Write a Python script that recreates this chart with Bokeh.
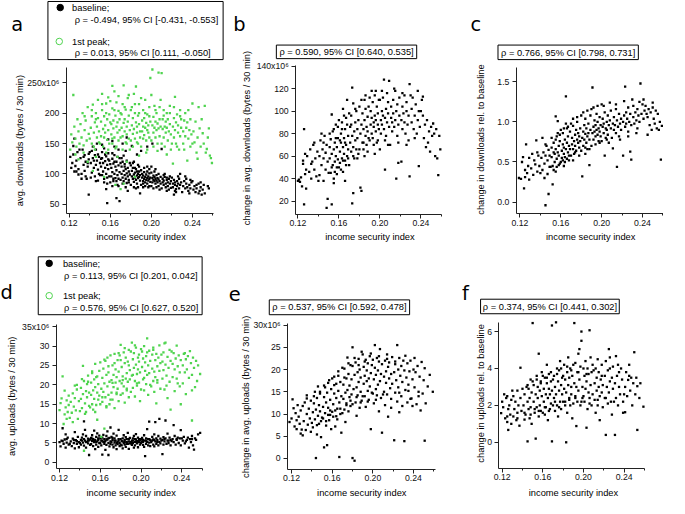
from math import pi
from bokeh.plotting import figure
from bokeh.models import Range1d, LinearAxis, FixedTicker, CustomJSTickFormatter
from bokeh.core.properties import value
from bokeh.embed import file_html
from bokeh.resources import INLINE

# ---------------- data (values in 10^6 bytes / 30 min unless relative) -------------
x_major = [0.12, 0.16, 0.20, 0.24]
x_minor = [0.14, 0.18, 0.22, 0.26]

a_baseline = [(0.121,128),(0.122,110),(0.123,118),(0.124,146),(0.125,158),(0.125,104),(0.126,113),(0.127,122),(0.128,136),(0.129,108),(0.129,99),
(0.131,126),(0.132,92),(0.133,140),(0.134,115),(0.135,131),(0.135,105),(0.136,120),(0.137,92),(0.138,112),(0.139,133),(0.139,124),(0.139,66),
(0.141,118),(0.142,102),(0.142,138),(0.143,126),(0.144,110),(0.145,96),(0.145,131),(0.146,140),(0.146,115),(0.147,122),(0.148,107),(0.148,89),(0.149,128),(0.149,100),(0.147,150),(0.143,145),
(0.151,112),(0.151,125),(0.152,98),(0.152,136),(0.153,118),(0.153,104),(0.154,142),(0.154,92),(0.155,121),(0.155,110),(0.156,129),(0.156,100),(0.157,115),(0.157,84),(0.158,108),(0.158,134),(0.159,96),(0.159,122),(0.156,75),(0.157,52),(0.152,148),(0.158,157),
(0.161,110),(0.161,96),(0.162,125),(0.162,103),(0.163,117),(0.163,88),(0.164,131),(0.164,100),(0.165,112),(0.165,93),(0.166,120),(0.166,106),(0.167,98),(0.167,82),(0.168,114),(0.168,92),(0.169,103),(0.169,126),(0.166,60),(0.169,55),(0.164,145),(0.168,140),(0.162,80),(0.162,154),
(0.171,100),(0.171,112),(0.172,94),(0.172,120),(0.173,105),(0.173,88),(0.174,98),(0.174,116),(0.175,92),(0.175,108),(0.176,101),(0.176,85),(0.177,110),(0.177,96),(0.178,104),(0.178,90),(0.179,99),(0.179,118),(0.173,130),(0.177,72),(0.175,138),(0.172,150),(0.176,160),
(0.181,96),(0.181,105),(0.182,92),(0.182,110),(0.183,99),(0.183,87),(0.184,102),(0.184,94),(0.185,108),(0.185,90),(0.186,97),(0.186,84),(0.187,100),(0.187,93),(0.188,95),(0.188,104),(0.189,89),(0.189,98),(0.183,120),(0.187,115),(0.185,76),(0.189,68),(0.181,146),(0.186,132),
(0.191,94),(0.191,100),(0.192,88),(0.192,97),(0.193,92),(0.193,103),(0.194,86),(0.194,95),(0.195,90),(0.195,99),(0.196,93),(0.196,84),(0.197,96),(0.197,89),(0.198,92),(0.198,101),(0.199,87),(0.199,94),(0.196,112),(0.192,78),(0.198,80),(0.196,145),(0.190,138),
(0.201,93),(0.201,86),(0.202,97),(0.202,90),(0.203,88),(0.203,95),(0.204,84),(0.204,92),(0.205,89),(0.205,98),(0.206,86),(0.206,93),(0.207,91),(0.207,80),(0.208,88),(0.209,95),(0.209,84),(0.204,108),(0.208,74),(0.200,112),(0.201,150),
(0.211,86),(0.211,92),(0.212,82),(0.212,89),(0.213,95),(0.214,84),(0.214,78),(0.215,90),(0.216,86),(0.216,80),(0.217,92),(0.218,84),(0.219,88),(0.219,77),(0.213,100),(0.215,72),(0.218,96),(0.210,141),
(0.221,84),(0.221,78),(0.222,90),(0.223,82),(0.223,86),(0.224,75),(0.225,88),(0.225,80),(0.226,84),(0.227,92),(0.227,76),(0.228,82),(0.229,86),(0.222,66),(0.224,70),(0.228,100),
(0.231,80),(0.232,88),(0.233,76),(0.234,84),(0.235,78),(0.236,72),(0.237,82),(0.238,76),(0.239,86),(0.238,90),(0.233,96),
(0.241,74),(0.242,80),(0.243,70),(0.244,76),(0.246,84),(0.247,72),(0.248,78),(0.249,66),(0.250,74),(0.251,82),(0.252,68),(0.255,80),(0.256,76),(0.246,68),
(0.124,132),(0.127,104),(0.130,140),(0.132,100),(0.134,128),(0.136,96),(0.138,118),(0.140,136),(0.141,94),(0.144,122),(0.146,88),(0.148,132),(0.150,98),(0.150,118),(0.152,126),(0.154,86),(0.155,132),(0.157,94),(0.158,124),(0.160,86),(0.160,116),(0.162,134),(0.163,92),(0.164,120),(0.166,88),(0.167,128),(0.168,80),(0.170,118),(0.170,90),(0.171,126),(0.172,84),(0.174,112),(0.175,78),(0.176,122),(0.178,86),(0.180,114),(0.180,82),(0.182,118),(0.183,78),(0.184,110),(0.186,104),(0.187,78),(0.188,112),(0.190,82),(0.190,106),(0.192,84),(0.193,110),(0.194,80),(0.196,104),(0.197,78),(0.198,108),(0.200,80),(0.200,102),(0.202,76),(0.203,104),(0.205,78),(0.207,100),(0.210,76),(0.212,98),(0.215,94),(0.217,74),(0.220,94),(0.223,72),(0.226,96),(0.230,70),(0.234,92),(0.237,68),(0.240,88),(0.244,82),(0.248,86)]

a_peak = [(0.121,140),(0.122,165),(0.123,152),(0.124,230),(0.125,178),(0.126,158),(0.127,145),(0.128,190),(0.129,170),(0.126,132),(0.129,124),
(0.131,182),(0.132,160),(0.133,200),(0.134,147),(0.135,172),(0.136,188),(0.137,155),(0.138,210),(0.139,166),(0.134,135),(0.138,120),
(0.141,176),(0.142,195),(0.142,150),(0.143,214),(0.144,168),(0.145,185),(0.145,140),(0.146,200),(0.147,160),(0.147,178),(0.148,192),(0.149,152),(0.149,170),(0.146,128),(0.143,105),(0.148,222),
(0.151,186),(0.151,162),(0.152,205),(0.153,174),(0.153,145),(0.154,195),(0.155,168),(0.155,180),(0.156,216),(0.157,156),(0.157,190),(0.158,172),(0.158,226),(0.159,150),(0.159,198),(0.152,232),(0.156,135),(0.154,95),
(0.161,182),(0.161,165),(0.162,208),(0.162,150),(0.163,188),(0.163,175),(0.164,236),(0.164,160),(0.165,196),(0.165,142),(0.166,178),(0.166,218),(0.167,168),(0.167,185),(0.168,155),(0.168,204),(0.169,172),(0.169,190),(0.165,82),(0.167,128),(0.162,245),
(0.171,176),(0.171,198),(0.172,162),(0.172,215),(0.173,184),(0.173,246),(0.174,170),(0.174,190),(0.175,152),(0.175,206),(0.176,178),(0.176,165),(0.177,225),(0.177,186),(0.178,158),(0.178,196),(0.179,172),(0.179,140),(0.173,84),(0.176,120),(0.170,75),
(0.181,180),(0.181,210),(0.182,166),(0.182,192),(0.183,174),(0.183,232),(0.184,158),(0.184,200),(0.185,185),(0.185,244),(0.186,168),(0.186,178),(0.187,196),(0.187,150),(0.188,182),(0.188,215),(0.189,170),(0.189,160),(0.184,95),(0.188,130),
(0.191,188),(0.191,170),(0.192,178),(0.192,205),(0.193,164),(0.193,192),(0.194,176),(0.194,222),(0.195,184),(0.195,155),(0.196,172),(0.196,198),(0.197,168),(0.197,180),(0.198,210),(0.198,160),(0.199,258),(0.199,186),(0.195,135),
(0.201,180),(0.201,272),(0.202,168),(0.202,194),(0.203,176),(0.203,212),(0.204,160),(0.204,186),(0.205,172),(0.205,200),(0.206,183),(0.206,150),(0.207,267),(0.207,175),(0.208,190),(0.208,162),(0.209,178),(0.209,222),(0.210,266),
(0.211,174),(0.211,190),(0.212,160),(0.212,205),(0.213,178),(0.213,145),(0.214,186),(0.214,168),(0.215,200),(0.215,176),(0.216,155),(0.216,190),(0.217,170),(0.218,182),(0.218,212),(0.219,165),(0.219,140),
(0.221,178),(0.221,117),(0.222,192),(0.222,160),(0.223,227),(0.223,172),(0.224,185),(0.224,150),(0.225,198),(0.226,168),(0.226,180),(0.227,140),(0.228,205),(0.228,162),(0.229,176),(0.229,190),
(0.231,170),(0.231,150),(0.232,188),(0.233,162),(0.233,200),(0.234,176),(0.235,122),(0.235,185),(0.236,158),(0.237,172),(0.238,190),(0.238,145),(0.239,165),
(0.240,216),(0.241,170),(0.242,152),(0.243,186),(0.244,135),(0.245,160),(0.246,210),(0.247,175),(0.248,145),(0.249,190),(0.245,125),
(0.250,167),(0.251,150),(0.252,212),(0.253,135),(0.254,141),(0.255,160),(0.256,175),(0.257,130),(0.258,126),(0.259,118),
(0.130,150),(0.135,195),(0.140,158),(0.142,205),(0.144,145),(0.146,190),(0.150,150),(0.152,215),(0.154,160),(0.156,200),(0.158,140),(0.160,185),(0.160,220),(0.162,158),(0.164,205),(0.166,145),(0.168,228),(0.170,160),(0.170,200),(0.172,140),(0.174,210),(0.176,150),(0.178,230),(0.180,155),(0.180,205),(0.182,145),(0.184,215),(0.186,152),(0.188,200),(0.190,145),(0.190,225),(0.192,158),(0.194,200),(0.196,140),(0.198,195),(0.200,155),(0.200,230),(0.202,145),(0.204,205),(0.206,138),(0.208,210),(0.210,150),(0.212,196),(0.215,132),(0.218,200),(0.220,150),(0.222,210),(0.225,145),(0.228,195),(0.232,140),(0.236,205),(0.240,150)]

b_change = [(0.120,38),(0.121,39),(0.122,37),(0.123,41),(0.124,33),(0.125,53),(0.125,56),(0.126,84),(0.126,17),(0.127,44),(0.128,48),(0.129,60),(0.128,31),(0.127,62),
(0.131,46),(0.132,66),(0.133,40),(0.134,55),(0.135,70),(0.136,48),(0.137,58),(0.138,42),(0.139,64),(0.136,72),(0.133,53),
(0.141,60),(0.141,43),(0.142,74),(0.143,52),(0.144,66),(0.145,38),(0.145,58),(0.146,78),(0.147,48),(0.147,63),(0.148,70),(0.148,14),(0.149,22),(0.149,55),(0.143,80),
(0.151,58),(0.151,68),(0.152,45),(0.152,75),(0.153,62),(0.153,17),(0.154,52),(0.154,82),(0.155,66),(0.155,40),(0.156,72),(0.156,55),(0.157,60),(0.157,88),(0.158,50),(0.158,68),(0.159,76),(0.159,57),(0.153,97),(0.155,36),
(0.161,64),(0.161,54),(0.162,72),(0.162,80),(0.163,58),(0.163,90),(0.164,68),(0.164,46),(0.165,76),(0.165,62),(0.166,84),(0.166,56),(0.167,70),(0.167,94),(0.168,110),(0.168,60),(0.169,78),(0.169,66),(0.164,102),(0.166,38),
(0.171,72),(0.171,86),(0.172,64),(0.172,96),(0.173,121),(0.173,78),(0.173,18),(0.174,27),(0.174,68),(0.175,82),(0.175,58),(0.176,90),(0.176,74),(0.177,100),(0.177,66),(0.178,84),(0.178,76),(0.179,92),(0.179,62),(0.174,107),
(0.181,80),(0.181,32),(0.182,29),(0.182,88),(0.183,72),(0.183,98),(0.184,84),(0.184,66),(0.185,92),(0.185,110),(0.186,78),(0.186,102),(0.187,86),(0.187,70),(0.188,95),(0.188,82),(0.189,76),(0.189,104),(0.185,60),
(0.191,88),(0.191,100),(0.192,80),(0.192,94),(0.193,108),(0.193,76),(0.194,90),(0.194,86),(0.195,96),(0.195,114),(0.196,82),(0.196,92),(0.197,104),(0.197,72),(0.198,88),(0.198,98),(0.199,84),(0.199,110),(0.195,62),
(0.201,92),(0.201,80),(0.202,100),(0.202,88),(0.203,96),(0.203,112),(0.204,84),(0.204,128),(0.205,48),(0.205,94),(0.206,102),(0.206,78),(0.207,90),(0.207,116),(0.208,98),(0.209,127),(0.209,86),(0.208,70),
(0.211,94),(0.211,104),(0.212,82),(0.212,90),(0.213,110),(0.213,98),(0.214,86),(0.215,118),(0.215,92),(0.216,40),(0.216,100),(0.217,78),(0.217,106),(0.218,54),(0.218,88),(0.219,96),(0.219,112),
(0.221,55),(0.221,92),(0.222,104),(0.222,84),(0.223,98),(0.224,114),(0.224,90),(0.225,80),(0.226,100),(0.226,108),(0.227,88),(0.228,96),(0.229,42),(0.229,124),(0.228,74),
(0.231,102),(0.231,90),(0.232,112),(0.233,84),(0.234,96),(0.235,106),(0.236,80),(0.237,118),(0.237,92),(0.238,51),(0.238,100),(0.239,86),
(0.241,110),(0.242,113),(0.242,96),(0.243,76),(0.244,88),(0.245,68),(0.246,92),(0.247,72),(0.248,82),(0.249,64),(0.250,86),(0.251,78),(0.252,89),(0.253,80),(0.254,60),(0.255,84),(0.256,58),(0.257,43),(0.258,78),(0.259,66),
(0.140,38),(0.145,72),(0.150,45),(0.151,80),(0.153,50),(0.155,84),(0.156,46),(0.157,76),(0.158,44),(0.159,86),(0.160,50),(0.160,92),(0.161,74),(0.162,48),(0.163,84),(0.164,56),(0.165,96),(0.166,72),(0.167,52),(0.168,88),(0.169,58),(0.170,98),(0.170,52),(0.172,88),(0.174,60),(0.176,102),(0.178,58),(0.180,104),(0.180,66),(0.182,110),(0.184,72),(0.186,114),(0.188,64),(0.190,112),(0.190,74),(0.192,118),(0.194,70),(0.196,118),(0.198,74),(0.200,110),(0.200,66),(0.202,118),(0.205,74),(0.208,108),(0.210,70),(0.214,120),(0.218,72),(0.222,116),(0.226,70),(0.230,114),(0.234,76),(0.240,100)]

c_rel = [(0.119,0.30),(0.121,0.29),(0.122,0.50),(0.123,0.56),(0.124,0.17),(0.125,0.31),(0.125,0.40),(0.126,0.72),(0.127,0.36),(0.128,0.45),(0.129,0.28),(0.129,0.55),
(0.131,0.42),(0.132,0.60),(0.133,0.34),(0.134,0.52),(0.135,0.47),(0.136,0.77),(0.137,0.38),(0.138,0.58),(0.139,0.45),(0.137,0.62),
(0.141,0.55),(0.142,0.80),(0.142,0.40),(0.143,0.62),(0.144,0.48),(0.145,-0.04),(0.145,0.58),(0.146,0.70),(0.147,0.35),(0.147,0.52),(0.148,0.10),(0.148,0.65),(0.149,0.44),(0.149,0.58),(0.144,0.30),
(0.151,0.56),(0.151,0.68),(0.152,0.45),(0.152,0.22),(0.153,0.62),(0.153,0.74),(0.154,0.50),(0.154,0.60),(0.155,1.07),(0.155,0.66),(0.156,0.54),(0.156,0.82),(0.157,1.01),(0.157,0.62),(0.158,0.58),(0.158,0.70),(0.159,0.48),(0.159,0.76),(0.155,0.38),
(0.161,0.64),(0.161,0.55),(0.162,0.72),(0.162,0.86),(0.163,0.60),(0.163,0.68),(0.164,0.78),(0.164,0.50),(0.165,1.32),(0.165,0.66),(0.166,0.74),(0.166,0.92),(0.167,0.62),(0.167,0.82),(0.168,0.70),(0.168,0.58),(0.169,0.88),(0.169,0.66),(0.163,0.45),
(0.171,0.72),(0.171,0.80),(0.172,0.66),(0.172,0.95),(0.173,0.76),(0.173,0.60),(0.174,0.84),(0.174,0.70),(0.175,0.90),(0.175,0.64),(0.176,0.78),(0.176,1.00),(0.177,0.74),(0.177,0.86),(0.178,0.68),(0.178,0.82),(0.179,0.92),(0.179,0.76),(0.172,0.52),
(0.181,0.80),(0.181,0.32),(0.182,0.88),(0.182,0.70),(0.183,0.96),(0.183,0.78),(0.184,0.85),(0.184,1.04),(0.185,0.74),(0.185,0.92),(0.186,0.82),(0.186,0.66),(0.187,0.98),(0.187,0.86),(0.188,0.46),(0.188,0.78),(0.189,0.90),(0.189,1.08),(0.184,0.60),
(0.191,1.43),(0.191,0.86),(0.192,0.94),(0.192,0.78),(0.193,1.02),(0.193,0.88),(0.194,0.82),(0.194,0.96),(0.195,1.10),(0.195,0.90),(0.196,0.84),(0.196,1.00),(0.197,0.92),(0.197,0.76),(0.198,1.06),(0.198,0.88),(0.199,0.96),(0.199,0.82),
(0.201,0.94),(0.201,1.04),(0.202,0.86),(0.202,0.98),(0.203,0.58),(0.203,1.12),(0.204,0.92),(0.204,0.80),(0.205,1.00),(0.205,0.90),(0.206,1.08),(0.206,0.84),(0.207,0.96),(0.207,0.74),(0.208,1.02),(0.209,0.92),(0.209,1.14),
(0.211,0.98),(0.211,0.67),(0.212,1.06),(0.212,0.90),(0.213,0.96),(0.214,1.16),(0.214,0.86),(0.215,0.44),(0.215,1.02),(0.216,0.94),(0.217,1.10),(0.217,0.82),(0.218,0.98),(0.219,1.04),(0.219,0.90),
(0.221,0.58),(0.221,1.00),(0.222,1.08),(0.223,0.94),(0.223,1.44),(0.224,1.12),(0.224,0.98),(0.225,1.04),(0.226,0.88),(0.226,1.18),(0.227,1.00),(0.228,1.10),(0.228,0.63),(0.229,0.96),(0.229,0.53),
(0.231,1.06),(0.231,1.20),(0.232,0.98),(0.233,1.12),(0.234,1.02),(0.235,1.16),(0.235,0.92),(0.236,1.08),(0.237,1.25),(0.237,1.00),(0.238,1.48),(0.239,1.10),
(0.241,1.04),(0.241,1.28),(0.242,1.14),(0.243,1.20),(0.244,1.10),(0.245,1.06),(0.246,1.16),(0.247,0.96),(0.248,1.12),(0.249,0.90),(0.250,1.18),(0.251,1.04),(0.252,0.98),(0.253,1.14),(0.254,0.92),(0.255,1.10),(0.256,0.90),(0.257,1.00),(0.258,0.53),(0.259,0.95),
(0.140,0.36),(0.145,0.72),(0.150,0.44),(0.151,0.80),(0.153,0.40),(0.155,0.78),(0.156,0.44),(0.157,0.86),(0.158,0.46),(0.159,0.84),(0.160,0.50),(0.160,0.90),(0.162,0.52),(0.163,0.92),(0.164,0.56),(0.165,0.98),(0.166,0.54),(0.167,0.94),(0.168,0.52),(0.170,0.98),(0.170,0.58),(0.172,1.04),(0.174,0.62),(0.176,1.06),(0.178,0.58),(0.180,1.08),(0.180,0.64),(0.182,1.12),(0.184,0.68),(0.186,1.14),(0.188,0.66),(0.190,1.16),(0.190,0.70),(0.192,1.18),(0.194,0.72),(0.196,1.20),(0.198,0.74),(0.200,1.22),(0.200,0.76),(0.202,1.20),(0.205,0.78),(0.208,1.24),(0.210,0.80),(0.214,1.22),(0.218,0.78),(0.222,1.26),(0.226,0.82),(0.230,1.28),(0.234,0.86),(0.240,1.22),(0.245,0.84),(0.250,1.24)]

d_baseline = [(0.120,5.2),(0.121,4.1),(0.122,5.6),(0.123,8.8),(0.124,4.8),(0.125,5.9),(0.126,3.8),(0.127,5.1),(0.128,6.4),(0.129,4.6),(0.126,7.2),
(0.131,5.4),(0.132,4.2),(0.133,6.1),(0.134,5.0),(0.135,3.6),(0.136,5.7),(0.137,4.8),(0.138,6.6),(0.139,5.2),(0.135,7.8),(0.139,3.9),
(0.141,5.8),(0.141,4.6),(0.142,6.4),(0.143,5.1),(0.143,7.2),(0.144,10.6),(0.144,4.3),(0.145,5.6),(0.146,6.8),(0.146,3.8),(0.147,5.3),(0.148,6.1),(0.148,4.9),(0.149,1.9),(0.149,5.7),(0.145,8.4),
(0.151,6.3),(0.151,4.7),(0.152,5.5),(0.152,7.0),(0.153,4.2),(0.153,6.0),(0.154,5.2),(0.154,8.2),(0.155,3.4),(0.155,5.8),(0.156,6.6),(0.156,4.6),(0.157,5.4),(0.157,7.5),(0.158,4.0),(0.158,6.2),(0.159,5.0),(0.159,6.9),
(0.161,5.6),(0.161,4.4),(0.162,6.4),(0.162,2.0),(0.163,5.2),(0.163,7.1),(0.164,4.8),(0.164,6.0),(0.165,3.2),(0.165,5.5),(0.166,6.8),(0.166,4.5),(0.167,5.9),(0.167,8.0),(0.168,5.0),(0.168,1.9),(0.169,6.3),(0.169,4.1),(0.170,9.0),
(0.171,5.3),(0.171,6.6),(0.172,4.6),(0.172,5.8),(0.173,7.4),(0.173,3.9),(0.174,5.1),(0.174,6.2),(0.175,4.4),(0.175,5.6),(0.176,6.9),(0.176,3.4),(0.177,5.3),(0.177,4.7),(0.178,6.0),(0.178,8.4),(0.179,5.0),(0.179,4.2),
(0.181,5.5),(0.181,4.4),(0.182,6.2),(0.182,3.6),(0.183,5.0),(0.183,7.0),(0.184,4.6),(0.184,5.8),(0.185,6.5),(0.185,4.0),(0.186,5.2),(0.186,6.0),(0.187,4.8),(0.187,7.6),(0.188,5.4),(0.188,3.5),(0.189,6.3),(0.189,4.9),
(0.191,5.6),(0.191,4.5),(0.192,6.2),(0.192,5.0),(0.193,3.8),(0.193,6.8),(0.194,5.3),(0.194,4.4),(0.195,5.9),(0.195,7.3),(0.196,4.9),(0.196,5.5),(0.197,6.4),(0.197,3.9),(0.198,5.2),(0.198,6.0),(0.199,4.6),(0.199,5.7),
(0.201,5.4),(0.201,6.3),(0.202,4.5),(0.202,5.8),(0.203,7.0),(0.203,4.0),(0.204,5.6),(0.204,1.6),(0.205,6.2),(0.205,4.8),(0.206,5.3),(0.206,8.6),(0.207,4.4),(0.207,6.0),(0.208,5.1),(0.208,10.5),(0.209,5.8),(0.209,4.2),
(0.211,5.6),(0.211,6.6),(0.212,4.6),(0.212,5.9),(0.213,7.2),(0.213,4.1),(0.214,5.4),(0.214,10.4),(0.215,6.2),(0.215,4.8),(0.216,5.7),(0.217,6.8),(0.217,4.4),(0.218,5.3),(0.218,11.2),(0.219,6.1),(0.219,4.9),
(0.221,5.8),(0.221,2.1),(0.222,6.5),(0.222,4.6),(0.223,5.4),(0.224,10.8),(0.224,6.2),(0.225,4.8),(0.226,5.6),(0.226,7.4),(0.227,5.0),(0.228,6.4),(0.229,4.4),(0.229,5.8),
(0.231,6.0),(0.232,5.2),(0.232,9.6),(0.233,6.8),(0.234,4.6),(0.235,5.8),(0.236,6.4),(0.237,5.0),(0.238,6.2),(0.239,8.3),(0.239,4.4),
(0.241,5.6),(0.242,6.6),(0.243,4.9),(0.245,5.8),(0.246,6.4),(0.247,3.8),(0.248,6.0),(0.249,5.2),(0.250,6.8),(0.251,4.4),(0.252,3.3),(0.253,6.2),(0.254,5.8),(0.256,7.2),(0.258,7.6),
(0.123,5.5),(0.127,6.0),(0.130,4.8),(0.134,5.8),(0.137,5.5),(0.140,5.0),(0.142,5.6),(0.144,6.0),(0.146,5.2),(0.148,5.6),(0.150,5.9),(0.150,4.5),(0.152,6.1),(0.154,5.6),(0.156,5.2),(0.158,5.8),(0.160,6.2),(0.160,5.0),(0.162,5.6),(0.164,5.3),(0.166,5.9),(0.168,6.2),(0.170,5.4),(0.170,4.8),(0.172,6.3),(0.174,5.6),(0.176,5.0),(0.178,5.6),(0.180,6.0),(0.180,4.6),(0.182,5.4),(0.184,5.2),(0.186,4.8),(0.188,6.0),(0.190,5.2),(0.190,4.9),(0.192,5.6),(0.194,6.0),(0.196,5.1),(0.198,5.5),(0.200,5.0),(0.200,6.0),(0.202,5.3),(0.205,5.6),(0.208,6.0),(0.210,5.2),(0.213,5.8),(0.216,5.2),(0.220,5.6),(0.223,6.0),(0.227,5.6),(0.230,5.5),(0.235,6.0),(0.240,6.2),(0.244,5.4),(0.250,6.0)]

d_peak = [(0.120,13.5),(0.121,15.3),(0.122,16.5),(0.123,22.2),(0.124,9.9),(0.125,12.4),(0.126,14.2),(0.127,16.0),(0.128,13.0),(0.129,17.2),(0.127,11.2),(0.129,14.8),
(0.131,15.6),(0.132,12.8),(0.133,17.8),(0.134,14.4),(0.135,16.6),(0.136,13.4),(0.137,18.8),(0.138,11.2),(0.139,15.8),(0.137,20.0),(0.133,10.4),
(0.141,16.4),(0.141,19.2),(0.142,14.0),(0.143,24.9),(0.143,17.6),(0.144,3.0),(0.144,21.0),(0.145,15.2),(0.146,18.4),(0.146,13.0),(0.147,20.2),(0.147,16.8),(0.148,22.4),(0.149,14.6),(0.149,18.0),
(0.151,17.4),(0.151,20.6),(0.152,15.0),(0.152,23.0),(0.153,18.6),(0.153,13.6),(0.154,21.4),(0.154,16.4),(0.155,19.4),(0.155,25.4),(0.156,14.8),(0.156,22.0),(0.157,11.0),(0.157,18.0),(0.158,20.2),(0.158,16.2),(0.159,23.6),(0.159,17.2),
(0.161,19.0),(0.161,6.6),(0.162,21.8),(0.162,15.6),(0.163,24.2),(0.163,18.2),(0.164,20.4),(0.164,8.7),(0.165,16.8),(0.165,26.2),(0.166,22.6),(0.166,14.2),(0.167,27.0),(0.167,19.6),(0.168,17.4),(0.168,23.2),(0.169,20.8),(0.169,15.0),
(0.171,21.2),(0.171,18.0),(0.172,25.0),(0.172,16.2),(0.173,22.6),(0.173,19.4),(0.174,28.0),(0.174,14.0),(0.175,20.6),(0.175,24.0),(0.176,17.6),(0.176,22.0),(0.177,26.4),(0.177,19.0),(0.178,15.8),(0.178,23.4),(0.179,21.0),(0.179,27.6),
(0.180,30.3),(0.181,20.4),(0.181,24.6),(0.182,17.8),(0.182,22.2),(0.183,28.4),(0.183,19.6),(0.184,25.6),(0.184,15.4),(0.185,21.6),(0.185,27.0),(0.186,23.0),(0.186,18.6),(0.187,26.0),(0.187,20.8),(0.188,29.0),(0.188,16.8),(0.189,23.8),(0.189,21.4),
(0.191,30.9),(0.191,22.4),(0.192,26.6),(0.192,19.2),(0.193,24.4),(0.193,28.2),(0.194,21.0),(0.194,17.0),(0.195,25.2),(0.195,29.6),(0.196,22.8),(0.196,19.8),(0.197,27.0),(0.197,24.0),(0.198,20.6),(0.198,26.0),(0.199,23.2),(0.199,15.8),
(0.201,24.6),(0.201,28.6),(0.202,21.4),(0.202,26.8),(0.203,18.6),(0.203,30.0),(0.204,23.6),(0.204,25.8),(0.205,20.2),(0.205,27.4),(0.206,32.0),(0.206,22.6),(0.207,25.0),(0.207,17.4),(0.208,28.8),(0.208,23.0),(0.209,26.2),(0.209,20.0),
(0.211,24.2),(0.211,27.8),(0.212,21.0),(0.212,29.6),(0.213,23.4),(0.213,18.2),(0.214,26.4),(0.214,22.0),(0.215,28.0),(0.215,15.2),(0.216,24.8),(0.216,20.6),(0.217,27.0),(0.218,23.6),(0.218,30.2),(0.219,25.6),(0.219,19.0),
(0.221,26.0),(0.221,21.6),(0.222,28.4),(0.222,23.8),(0.223,30.7),(0.223,18.8),(0.224,30.9),(0.224,25.2),(0.225,22.4),(0.226,27.2),(0.226,16.6),(0.227,24.4),(0.228,29.0),(0.228,20.8),(0.229,26.2),(0.229,13.6),
(0.231,25.4),(0.231,22.0),(0.232,28.2),(0.233,24.0),(0.233,18.4),(0.234,26.8),(0.235,30.1),(0.235,21.6),(0.236,24.8),(0.237,27.6),(0.238,19.6),(0.238,23.2),(0.239,26.4),(0.239,15.0),
(0.241,25.0),(0.241,20.4),(0.242,28.0),(0.243,23.2),(0.244,26.6),(0.244,17.6),(0.245,24.0),(0.246,27.4),(0.247,21.8),(0.248,28.7),(0.249,25.6),(0.250,10.8),(0.250,22.6),(0.251,27.0),(0.252,24.4),(0.253,19.4),(0.254,26.2),(0.255,21.0),(0.256,25.0),(0.258,22.8),
(0.125,18.5),(0.130,11.5),(0.135,19.8),(0.140,13.2),(0.142,21.5),(0.145,12.5),(0.148,20.8),(0.150,14.2),(0.152,23.5),(0.155,13.0),(0.157,22.2),(0.160,15.0),(0.160,25.8),(0.162,16.8),(0.164,26.5),(0.166,14.5),(0.168,24.8),(0.170,16.2),(0.170,27.6),(0.172,20.5),(0.174,25.6),(0.176,18.0),(0.178,28.2),(0.180,17.4),(0.180,26.4),(0.182,21.2),(0.184,29.5),(0.186,19.0),(0.188,25.0),(0.190,18.2),(0.190,28.6),(0.192,22.6),(0.194,30.2),(0.196,20.4),(0.198,27.8),(0.200,18.8),(0.200,29.2),(0.203,21.8),(0.206,28.4),(0.210,19.6),(0.212,29.0),(0.216,21.2),(0.220,27.8),(0.225,19.8),(0.230,28.6),(0.236,20.4),(0.243,28.2),(0.250,18.6)]

e_change = [(0.118,8.2),(0.120,9.0),(0.121,13.3),(0.122,11.3),(0.123,7.2),(0.124,10.2),(0.125,8.6),(0.125,6.6),(0.126,12.0),(0.127,9.4),(0.128,7.8),(0.129,5.6),(0.129,10.8),
(0.131,5.2),(0.131,11.8),(0.132,8.4),(0.133,12.6),(0.134,6.4),(0.135,10.0),(0.135,14.2),(0.136,7.6),(0.137,11.2),(0.138,9.0),(0.139,13.0),(0.139,6.0),
(0.141,10.4),(0.141,7.0),(0.142,12.4),(0.143,8.8),(0.143,15.0),(0.144,0.1),(0.144,11.0),(0.145,5.4),(0.145,13.6),(0.146,9.6),(0.146,16.2),(0.147,7.8),(0.147,12.0),(0.148,10.6),(0.148,14.6),(0.149,8.4),(0.149,4.8),
(0.151,11.6),(0.151,9.0),(0.152,2.5),(0.152,13.8),(0.153,10.2),(0.153,16.0),(0.154,7.4),(0.154,12.6),(0.155,3.0),(0.155,14.8),(0.156,9.8),(0.156,11.4),(0.157,17.6),(0.157,8.6),(0.158,13.2),(0.158,10.8),(0.159,15.6),(0.159,6.6),
(0.161,12.2),(0.161,9.4),(0.162,14.6),(0.162,18.4),(0.163,10.8),(0.163,7.2),(0.164,13.6),(0.164,16.8),(0.165,11.2),(0.165,8.8),(0.166,15.2),(0.166,19.6),(0.167,12.6),(0.167,0.33),(0.168,10.0),(0.168,17.2),(0.169,14.0),(0.169,5.8),
(0.171,13.4),(0.171,16.6),(0.172,11.0),(0.172,20.2),(0.173,14.8),(0.173,8.2),(0.174,18.0),(0.174,12.4),(0.175,22.7),(0.175,15.4),(0.176,10.6),(0.176,19.0),(0.177,13.8),(0.177,16.4),(0.178,11.8),(0.178,21.0),(0.179,14.4),(0.179,17.8),
(0.180,25.0),(0.180,0.1),(0.181,15.6),(0.182,-0.5),(0.182,18.8),(0.183,12.6),(0.183,21.6),(0.184,16.0),(0.184,9.6),(0.185,19.4),(0.185,14.2),(0.186,22.4),(0.186,17.2),(0.187,11.4),(0.187,20.0),(0.188,15.0),(0.188,18.2),(0.189,24.0),(0.189,13.0),
(0.191,16.8),(0.191,20.6),(0.192,14.0),(0.192,18.6),(0.193,22.2),(0.193,11.6),(0.194,17.4),(0.194,19.8),(0.195,15.2),(0.195,21.4),(0.196,13.2),(0.196,18.0),(0.197,23.0),(0.197,16.2),(0.198,6.6),(0.198,19.2),(0.199,14.8),(0.199,21.0),
(0.201,17.8),(0.201,12.4),(0.202,25.5),(0.202,20.4),(0.203,15.6),(0.203,18.8),(0.204,22.6),(0.204,14.2),(0.205,19.8),(0.205,16.6),(0.206,21.8),(0.206,10.6),(0.207,24.6),(0.207,17.4),(0.208,19.0),(0.208,13.6),(0.209,5.8),(0.209,21.2),
(0.211,18.4),(0.211,15.0),(0.212,22.0),(0.212,12.0),(0.213,19.6),(0.213,17.0),(0.214,23.4),(0.214,14.4),(0.215,20.6),(0.215,9.4),(0.216,18.0),(0.216,21.6),(0.217,15.8),(0.218,19.0),(0.218,11.4),(0.219,22.8),(0.219,16.8),
(0.221,4.1),(0.221,19.4),(0.222,14.8),(0.222,21.2),(0.223,17.6),(0.224,25.5),(0.224,12.8),(0.225,20.0),(0.225,16.0),(0.226,22.6),(0.226,10.4),(0.227,18.6),(0.228,14.0),(0.228,20.8),(0.229,11.8),(0.229,17.2),
(0.231,3.9),(0.231,19.8),(0.232,23.1),(0.232,15.4),(0.233,18.2),(0.234,12.6),(0.234,21.4),(0.235,16.6),(0.236,19.6),(0.237,13.4),(0.237,22.0),(0.238,13.5),(0.239,11.8),(0.239,17.8),
(0.241,22.6),(0.241,16.0),(0.242,19.4),(0.243,12.2),(0.244,20.8),(0.245,15.0),(0.246,18.4),(0.247,10.8),(0.248,21.7),(0.249,14.6),(0.250,17.6),(0.251,4.0),(0.251,20.3),(0.252,12.4),(0.254,16.2),(0.256,18.8),(0.259,15.0),
(0.130,6.5),(0.135,13.5),(0.140,8.0),(0.142,14.0),(0.145,7.5),(0.148,15.0),(0.150,9.2),(0.152,16.4),(0.154,8.4),(0.156,17.0),(0.158,9.8),(0.160,18.0),(0.160,10.5),(0.162,16.5),(0.164,9.5),(0.166,18.6),(0.168,11.2),(0.170,20.4),(0.170,10.2),(0.172,18.2),(0.174,12.0),(0.176,21.4),(0.178,13.0),(0.180,20.8),(0.180,12.2),(0.182,22.6),(0.184,13.8),(0.186,21.0),(0.188,12.6),(0.190,23.4),(0.190,14.0),(0.192,21.8),(0.195,12.8),(0.198,23.6),(0.200,14.6),(0.200,22.2),(0.203,13.2),(0.206,23.0),(0.210,14.4),(0.214,22.4),(0.218,13.4),(0.222,21.8),(0.226,14.8),(0.230,22.0),(0.235,15.2),(0.240,20.0),(0.245,14.0)]

f_rel = [(0.119,1.58),(0.120,2.2),(0.121,1.9),(0.122,2.6),(0.123,1.3),(0.124,2.4),(0.125,2.5),(0.125,1.1),(0.126,0.67),(0.126,1.8),(0.127,2.0),(0.128,1.5),(0.129,2.3),(0.129,1.0),
(0.131,1.4),(0.131,2.5),(0.132,1.8),(0.133,2.2),(0.134,1.2),(0.135,2.8),(0.135,1.6),(0.136,2.0),(0.137,0.9),(0.138,2.4),(0.138,4.04),(0.139,1.7),
(0.141,2.0),(0.142,1.23),(0.142,2.6),(0.143,1.5),(0.144,3.0),(0.145,0.05),(0.145,2.2),(0.146,1.8),(0.146,2.9),(0.147,1.3),(0.147,2.4),(0.148,3.4),(0.148,1.9),(0.149,2.7),(0.149,1.0),
(0.150,6.46),(0.151,2.2),(0.151,3.1),(0.152,1.6),(0.153,0.2),(0.153,2.6),(0.154,3.6),(0.154,1.9),(0.155,2.4),(0.155,3.0),(0.156,4.8),(0.156,1.4),(0.157,2.8),(0.157,2.0),(0.158,3.3),(0.158,1.7),(0.159,2.5),(0.159,3.8),
(0.161,2.2),(0.161,2.9),(0.162,1.5),(0.162,3.5),(0.163,2.6),(0.163,1.9),(0.164,3.2),(0.164,4.2),(0.165,2.4),(0.165,1.2),(0.166,2.9),(0.166,3.7),(0.167,1.8),(0.167,2.6),(0.168,3.3),(0.168,2.1),(0.169,6.33),(0.169,0.05),(0.169,2.8),
(0.171,2.4),(0.171,3.6),(0.172,1.7),(0.172,3.0),(0.173,6.5),(0.173,2.6),(0.174,4.0),(0.174,2.0),(0.175,3.3),(0.175,1.4),(0.176,2.8),(0.176,3.9),(0.177,2.2),(0.177,4.4),(0.178,3.1),(0.178,1.8),(0.179,2.6),(0.179,3.5),
(0.181,2.9),(0.181,4.2),(0.182,2.2),(0.182,3.4),(0.183,0.0),(0.183,2.7),(0.184,3.8),(0.184,1.6),(0.185,3.1),(0.185,4.6),(0.186,2.4),(0.186,3.5),(0.187,2.0),(0.187,4.0),(0.188,3.0),(0.188,2.6),(0.189,3.6),(0.189,1.3),
(0.191,6.46),(0.191,3.2),(0.192,2.5),(0.192,4.3),(0.193,0.88),(0.193,3.0),(0.194,3.8),(0.194,2.2),(0.195,4.8),(0.195,2.8),(0.196,5.05),(0.196,3.4),(0.197,2.0),(0.197,4.1),(0.198,6.0),(0.198,5.5),(0.199,3.0),(0.199,2.4),
(0.201,3.6),(0.201,2.2),(0.202,4.4),(0.202,2.9),(0.203,0.79),(0.203,3.3),(0.204,4.0),(0.204,1.8),(0.205,2.7),(0.205,3.7),(0.206,6.07),(0.206,2.4),(0.207,4.6),(0.207,3.1),(0.208,2.0),(0.208,3.8),(0.209,2.6),(0.209,4.2),
(0.211,3.2),(0.211,2.3),(0.212,4.0),(0.212,1.6),(0.213,3.5),(0.213,2.8),(0.214,4.5),(0.214,2.0),(0.215,3.0),(0.215,3.8),(0.216,2.5),(0.216,1.2),(0.217,3.4),(0.218,4.2),(0.218,2.7),(0.219,3.1),(0.219,1.9),
(0.221,3.6),(0.221,2.4),(0.222,4.4),(0.222,0.4),(0.223,3.0),(0.224,2.1),(0.224,3.9),(0.225,5.05),(0.225,2.7),(0.226,3.3),(0.226,4.6),(0.227,2.2),(0.228,3.5),(0.228,1.5),(0.229,2.9),(0.229,4.1),
(0.231,0.4),(0.231,3.2),(0.232,4.67),(0.232,2.4),(0.233,3.6),(0.234,2.0),(0.234,4.2),(0.235,3.0),(0.236,2.6),(0.237,4.0),(0.238,3.4),(0.239,2.2),(0.239,1.6),
(0.241,1.63),(0.241,3.0),(0.242,3.8),(0.243,2.5),(0.244,3.38),(0.245,4.2),(0.246,2.8),(0.247,3.5),(0.248,2.0),(0.249,3.2),(0.250,4.88),(0.251,2.6),(0.252,3.5),(0.253,0.67),(0.253,3.04),(0.255,2.4),(0.256,3.2),(0.259,1.93),
(0.125,1.4),(0.130,2.8),(0.135,1.3),(0.140,2.9),(0.142,1.6),(0.145,3.1),(0.148,1.5),(0.150,3.3),(0.152,1.8),(0.154,3.4),(0.156,1.7),(0.158,3.2),(0.160,1.6),(0.160,3.6),(0.162,1.9),(0.164,3.5),(0.166,1.7),(0.168,3.8),(0.170,2.0),(0.170,3.4),(0.172,2.2),(0.174,3.7),(0.176,1.9),(0.178,4.0),(0.180,2.2),(0.180,3.6),(0.182,2.0),(0.184,4.1),(0.186,2.3),(0.188,3.9),(0.190,2.1),(0.190,4.2),(0.192,2.4),(0.195,3.8),(0.198,2.2),(0.200,4.0),(0.200,2.5),(0.203,3.7),(0.206,2.1),(0.210,3.9),(0.214,2.3),(0.218,3.6),(0.222,2.4),(0.226,4.0),(0.230,2.2),(0.235,3.8),(0.240,2.6),(0.245,3.6)]

# ---------------- page geometry: one figure whose frame is the whole canvas ----------------
W_REF, H_REF = 685, 514          # reference picture size; canvas is scaled to fit the page
FONT = "Liberation Sans"
BLACK = "#000000"
GREEN = "#4fd44f"
AX = "#222222"

p = figure(width=663, height=498, output_backend="svg", toolbar_location=None,
           x_range=Range1d(0, W_REF), y_range=Range1d(0, H_REF),
           x_axis_type=None, y_axis_type=None, min_border=0)
p.outline_line_color = None
p.background_fill_color = "white"
p.border_fill_color = "white"

def Y(v):
    return H_REF - v

# per panel: pixel positions (reference px) of two x ticks, two y ticks, and axis extents
panels = {
    "a": dict(x12=71.0, x24=198.3, v0=50, p0=210.3, v1=250, p1=85.0, axx=68.0, axy=220.0, top=69.0, right=219.3,
              yticks=[50, 100, 150, 200, 250], ytop=250, ydec=0,
              series=[(a_baseline, BLACK), (a_peak, GREEN)]),
    "b": dict(x12=307.3, x24=434.3, v0=20, p0=207.0, v1=120, p1=91.0, axx=305.0, axy=220.7, top=67.5, right=455.4,
              yticks=[20, 40, 60, 80, 100, 120, 140], ytop=140, ydec=0,
              series=[(b_change, BLACK)]),
    "c": dict(x12=536.7, x24=663.3, v0=0.0, p0=208.0, v1=1.5, p1=84.0, axx=533.0, axy=220.0, top=69.0, right=684.4,
              yticks=[0.0, 0.5, 1.0, 1.5], ytop=-999, ydec=1,
              series=[(c_rel, BLACK)]),
    "d": dict(x12=61.0, x24=187.3, v0=0, p0=476.7, v1=35, p1=336.7, axx=57.7, axy=483.3, top=334.0, right=209.0,
              yticks=[0, 5, 10, 15, 20, 25, 30, 35], ytop=35, ydec=0,
              series=[(d_baseline, BLACK), (d_peak, GREEN)]),
    "e": dict(x12=300.7, x24=426.7, v0=0, p0=472.7, v1=30, p1=335.0, axx=296.7, axy=484.0, top=333.0, right=449.0,
              yticks=[0, 5, 10, 15, 20, 25, 30], ytop=30, ydec=0,
              series=[(e_change, BLACK)]),
    "f": dict(x12=518.3, x24=644.3, v0=0, p0=456.0, v1=6, p1=341.7, axx=515.0, axy=482.7, top=332.7, right=665.7,
              yticks=[0, 2, 4, 6], ytop=-999, ydec=0,
              series=[(f_rel, BLACK)]),
}

def yfmt(top, dec):
    return CustomJSTickFormatter(args=dict(top=top, dec=dec), code="""
        if (Math.abs(tick - top) < 1e-9) { return tick.toFixed(dec) + 'x10\u2076'; }
        return tick.toFixed(dec);
    """)

def style_axis(ax):
    ax.axis_line_color = AX
    ax.axis_line_width = 1
    ax.major_tick_line_color = AX
    ax.minor_tick_line_color = AX
    ax.major_tick_in = 0
    ax.major_tick_out = 4
    ax.minor_tick_in = 0
    ax.minor_tick_out = 2
    ax.major_label_text_font = FONT
    ax.major_label_text_font_size = "8.7px"
    ax.major_label_text_color = "#111111"
    ax.major_label_standoff = 2

xr, yr = {}, {}
axes = []
for k, g in panels.items():
    kx = (g["x24"] - g["x12"]) / 0.12
    ky = (g["p0"] - g["p1"]) / (g["v1"] - g["v0"])
    xs = 0.12 + (g["axx"] - g["x12"]) / kx
    xe = max(0.12 + (g["right"] - g["x12"]) / kx, 0.2601)
    ys = g["v0"] - (g["axy"] - g["p0"]) / ky
    ye = g["v0"] + (g["p0"] - g["top"]) / ky
    xr["x" + k] = Range1d(0.12 - g["x12"] / kx, 0.12 + (W_REF - g["x12"]) / kx)
    yr["y" + k] = Range1d(g["v0"] - (H_REF - g["p0"]) / ky, g["v0"] + g["p0"] / ky)
    xa = LinearAxis(x_range_name="x" + k, y_range_name="y" + k, fixed_location=ys, bounds=(xs, xe),
                    ticker=FixedTicker(ticks=x_major, minor_ticks=x_minor),
                    formatter=CustomJSTickFormatter(code="return tick.toFixed(2);"))
    ya = LinearAxis(x_range_name="x" + k, y_range_name="y" + k, fixed_location=xs, bounds=(ys, ye),
                    ticker=FixedTicker(ticks=g["yticks"], minor_ticks=[]),
                    formatter=yfmt(g["ytop"], g["ydec"]))
    style_axis(xa)
    style_axis(ya)
    ya.major_label_standoff = 3
    axes.append((xa, "below"))
    axes.append((ya, "left"))

p.extra_x_ranges = xr
p.extra_y_ranges = yr
for ax, side in axes:
    p.add_layout(ax, side)

for k, g in panels.items():
    for pts, col in g["series"]:
        p.scatter([q[0] for q in pts], [q[1] for q in pts], x_range_name="x" + k, y_range_name="y" + k,
                  marker="square", size=2.3, fill_color=col, line_color=None)

# ---------------- texts (positions in reference px) ----------------
def txt(xs_, ys_, texts, size, align="left", baseline="middle", angle=0.0, font=FONT, color="black"):
    p.text(x=xs_, y=[Y(v) for v in ys_], text=texts, text_font=value(font), text_font_size=value(size),
           text_align=align, text_baseline=baseline, angle=angle, text_color=color)

# panel letters
txt([11, 240.5, 485.7, 0, 235.7, 476.7], [25, 25, 25, 301.7, 303, 302.7],
    ["a", "b", "c", "d", "e", "f"], "19.4px", baseline="alphabetic", font="DejaVu Sans")

# x-axis titles
txt([145.3, 381.7, 609.8, 135.0, 373.3, 592.0], [244.0, 244.0, 244.3, 508.0, 508.8, 508.0],
    ["income security index"] * 6, "9.3px", align="center")

# y-axis titles
txt([20.5, 254.5, 496.0, 12.0, 254.0, 496.5], [144.5, 142.0, 143.5, 408.5, 409.0, 405.5],
    ["avg. downloads (bytes / 30 min)", "change in avg. downloads (bytes / 30 min)",
     "change in downloads rel. to baseline", "avg. uploads (bytes / 30 min)",
     "change in avg. uploads (bytes / 30 min)", "change in uploads rel. to baseline"],
    "9.3px", align="center", angle=pi / 2)

# legend boxes of a and d
p.quad(left=[49, 39], right=[230, 208.3], top=[Y(1), Y(264.5)], bottom=[Y(61), Y(324.3)],
       fill_color="white", line_color="black", line_width=1)
p.scatter([61.7, 50.3], [Y(7.3), Y(271.3)], marker="circle", size=6.5, fill_color=BLACK, line_color=BLACK)
p.scatter([60.7, 50.3], [Y(42.3), Y(304.7)], marker="circle", size=6.5, fill_color=None,
          line_color=GREEN, line_width=1)
txt([74, 76.7, 74, 76.7, 64.5, 65.7, 64.5, 65.7],
    [7.8, 20.5, 42.5, 54.3, 271.8, 284.3, 305.0, 317.0],
    ["baseline;", "\u03c1 = -0.494, 95% CI [-0.431, -0.553]",
     "1st peak;", "\u03c1 = 0.013, 95% CI [0.111, -0.050]",
     "baseline;", "\u03c1 = 0.113, 95% CI [0.201, 0.042]",
     "1st peak;", "\u03c1 = 0.576, 95% CI [0.627, 0.520]"], "9.3px")

# correlation boxes of b, c, e, f
p.quad(left=[285, 514, 277.7, 496], right=[430, 659, 422.7, 639.3],
       top=[Y(46), Y(46), Y(309), Y(308.3)], bottom=[Y(60), Y(61), Y(324.3), Y(323.3)],
       fill_color="white", line_color="black", line_width=1)
txt([357.5, 586.5, 350.2, 567.7], [53.2, 53.7, 316.8, 316.0],
    ["\u03c1 = 0.590, 95% CI [0.640, 0.535]", "\u03c1 = 0.766, 95% CI [0.798, 0.731]",
     "\u03c1 = 0.537, 95% CI [0.592, 0.478]", "\u03c1 = 0.374, 95% CI [0.441, 0.302]"],
    "9.3px", align="center")

open("out.html", "w", encoding="utf-8").write(file_html(p, INLINE))
